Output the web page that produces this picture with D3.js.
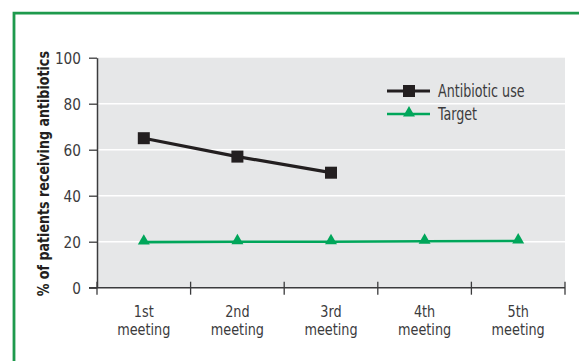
<!DOCTYPE html>
<html>
<head>
<meta charset="utf-8">
<script src="https://cdn.jsdelivr.net/npm/d3@7"></script>
<style>
  html, body { margin: 0; padding: 0; background: #fff; }
  svg { display: block; }
  .cond { font-family: "DejaVu Sans Condensed", "DejaVu Sans", sans-serif; font-stretch: condensed; }
</style>
</head>
<body>
<svg id="chart" width="579" height="361"></svg>
<script>
// Meetings and the share of patients receiving antibiotics at each
const meetings = ["1st", "2nd", "3rd", "4th", "5th"];
const meetingWord = "meeting";
const antibioticUse = [65, 57, 50];
const target = [19.8, 20, 20, 20.2, 20.3];
const yTicks = [0, 20, 40, 60, 80, 100];
const seriesNames = ["Antibiotic use", "Target"];

const svg = d3.select("#chart");
const W = 579, H = 361;
const margin = { left: 97, right: 14, top: 57.7, bottom: 73.3 };

const x = d3.scaleBand().domain(meetings).range([margin.left, W - margin.right]);
const y = d3.scaleLinear().domain([0, 100]).range([H - margin.bottom, margin.top]);

const ink = "#3b3b3d";
const black = "#231f20";
const green = "#00a65a";

// squeeze text horizontally to give it a narrow, condensed look
function narrow(sel, k) {
  sel.each(function () {
    const w = this.getComputedTextLength();
    d3.select(this).attr("textLength", w * k).attr("lengthAdjust", "spacingAndGlyphs");
  });
}

// outer frame
svg.append("path")
  .attr("d", `M14,${H + 5} V13.2 H${W + 5}`)
  .attr("fill", "none")
  .attr("stroke", "#1e9a4d")
  .attr("stroke-width", 2.8);

// plot background
svg.append("rect")
  .attr("x", margin.left).attr("y", margin.top)
  .attr("width", W - margin.right - margin.left)
  .attr("height", y(0) - margin.top)
  .attr("fill", "#e6e7e8");

// horizontal gridlines
svg.append("g")
  .selectAll("line")
  .data(yTicks.filter(d => d > 0 && d < 100))
  .join("line")
  .attr("x1", margin.left).attr("x2", W - margin.right)
  .attr("y1", d => y(d)).attr("y2", d => y(d))
  .attr("stroke", "#fff").attr("stroke-width", 1.6);

// y axis
const yAxis = svg.append("g")
  .attr("transform", `translate(${margin.left},0)`)
  .call(d3.axisLeft(y).tickValues(yTicks).tickSize(8).tickPadding(8).tickSizeOuter(0));
yAxis.select(".domain").attr("stroke", ink).attr("stroke-width", 1.5);
yAxis.selectAll(".tick line").attr("stroke", ink).attr("stroke-width", 1.3);
yAxis.selectAll(".tick text")
  .attr("class", "cond")
  .attr("font-size", 16).attr("fill", ink).attr("dy", "0.36em");
narrow(yAxis.selectAll(".tick text"), 0.95);

// x axis with category boundary ticks crossing the baseline
const xAxisG = svg.append("g").attr("transform", `translate(0,${y(0)})`);
xAxisG.append("line")
  .attr("x1", margin.left - 8).attr("x2", W - margin.right)
  .attr("stroke", ink).attr("stroke-width", 1.5);
const bounds = meetings.map(m => x(m)).concat([x(meetings[meetings.length - 1]) + x.bandwidth()]);
xAxisG.selectAll("line.bound")
  .data(bounds)
  .join("line")
  .attr("class", "bound")
  .attr("x1", d => d).attr("x2", d => d)
  .attr("y1", -6).attr("y2", 7)
  .attr("stroke", ink).attr("stroke-width", 1.3);

// two-line category labels: ordinal above, "meeting" below
const xl = xAxisG.selectAll("text.xl")
  .data(meetings)
  .join("text")
  .attr("class", "xl cond")
  .attr("text-anchor", "middle")
  .attr("font-size", 15.5)
  .attr("fill", ink);
xl.each(function (d) {
  const cxl = x(d) + x.bandwidth() / 2;
  d3.select(this).selectAll("tspan")
    .data([d, meetingWord])
    .join("tspan")
    .attr("x", cxl)
    .attr("y", (p, i) => (i === 0 ? 29 : 47.4))
    .text(p => p);
});
narrow(xl.selectAll("tspan"), 0.92);

// y axis title
const title = svg.append("text")
  .attr("class", "cond")
  .attr("transform", `translate(48.5,${(y(0) + y(100)) / 2 + 1}) rotate(-90)`)
  .attr("text-anchor", "middle")
  .attr("font-size", 16)
  .attr("font-weight", "bold")
  .attr("fill", black)
  .text("% of patients receiving antibiotics");
narrow(title, 0.88);

const cx = (i) => x(meetings[i]) + x.bandwidth() / 2;
const line = d3.line().x((d, i) => cx(i)).y(d => y(d));

// target series
svg.append("path")
  .datum(target)
  .attr("d", line)
  .attr("fill", "none").attr("stroke", green).attr("stroke-width", 2.6);
const tri = d3.symbol().type(d3.symbolTriangle).size(62);
svg.append("g").selectAll("path")
  .data(target)
  .join("path")
  .attr("transform", (d, i) => `translate(${cx(i)},${y(d) - 1})`)
  .attr("d", tri)
  .attr("fill", green);

// antibiotic use series
svg.append("path")
  .datum(antibioticUse)
  .attr("d", line)
  .attr("fill", "none").attr("stroke", black).attr("stroke-width", 3.2);
svg.append("g").selectAll("rect")
  .data(antibioticUse)
  .join("rect")
  .attr("x", (d, i) => cx(i) - 6).attr("y", d => y(d) - 6)
  .attr("width", 12).attr("height", 12)
  .attr("fill", black);

// legend
const legend = svg.append("g").attr("transform", "translate(387,0)");
const legendRows = [
  { name: seriesNames[0], color: black, width: 3.2, y: 91, shape: "square" },
  { name: seriesNames[1], color: green, width: 2.6, y: 114, shape: "triangle" }
];
legendRows.forEach(r => {
  legend.append("line")
    .attr("x1", 0).attr("x2", 43).attr("y1", r.y).attr("y2", r.y)
    .attr("stroke", r.color).attr("stroke-width", r.width);
  if (r.shape === "square") {
    legend.append("rect")
      .attr("x", 22 - 6).attr("y", r.y - 6).attr("width", 12).attr("height", 12)
      .attr("fill", r.color);
  } else {
    legend.append("path")
      .attr("transform", `translate(22,${r.y - 1})`)
      .attr("d", tri).attr("fill", r.color);
  }
  const t = legend.append("text")
    .attr("class", "cond")
    .attr("x", 51).attr("y", r.y)
    .attr("dy", "0.36em")
    .attr("font-size", 17)
    .attr("fill", ink)
    .text(r.name);
  narrow(t, 0.83);
});
</script>
</body>
</html>
